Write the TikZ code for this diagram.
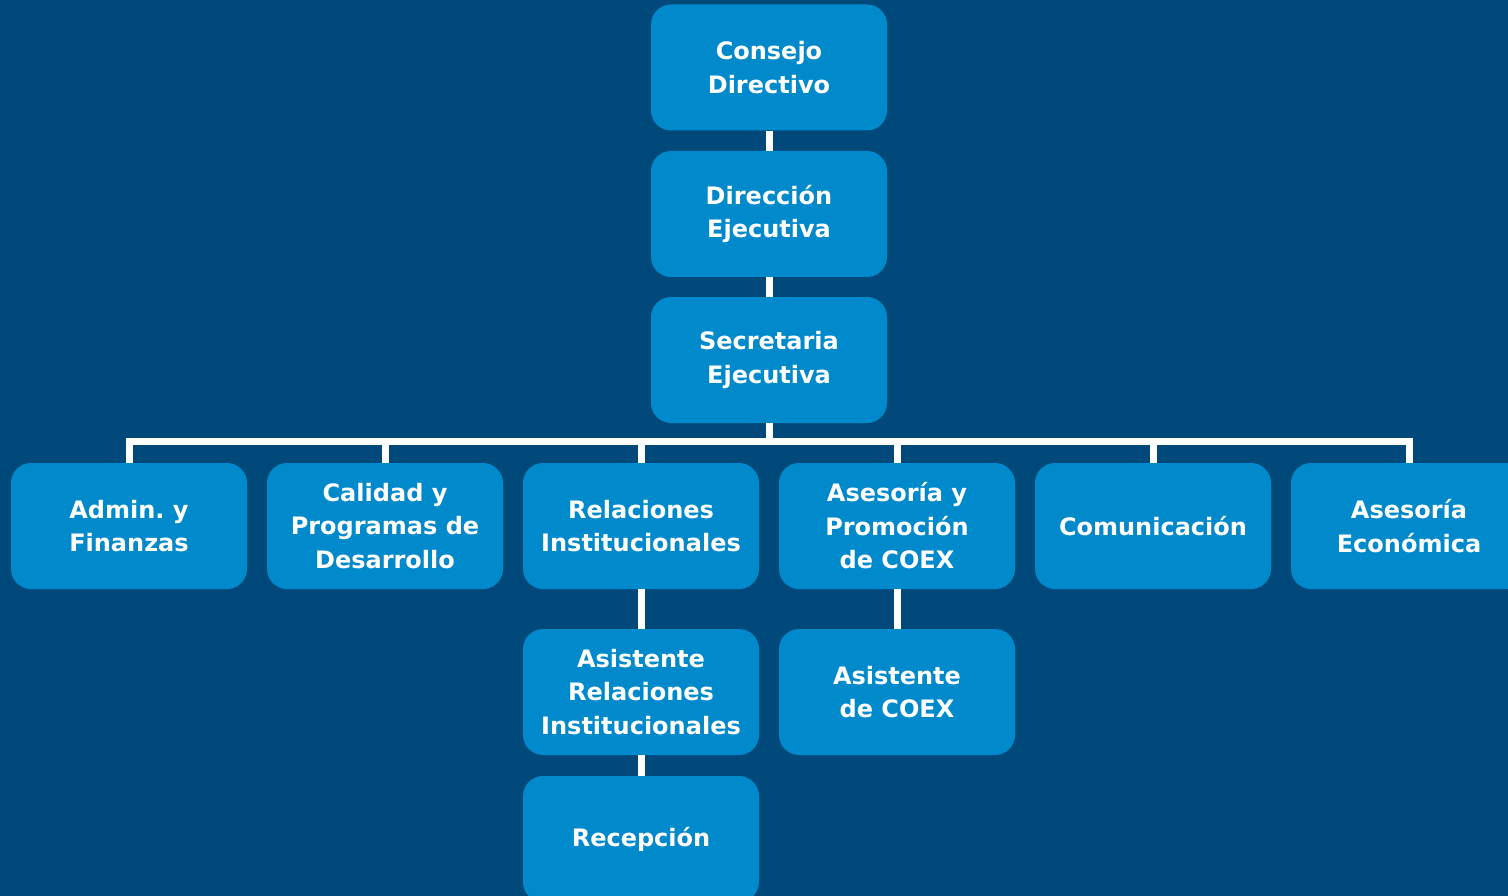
\documentclass[tikz,border=0pt]{standalone}
\usepackage{fontspec}
\setmainfont{DejaVu Sans}
\frenchspacing
\definecolor{bgblue}{HTML}{00497A}
\definecolor{boxblue}{HTML}{0089CB}
\begin{document}
\begin{tikzpicture}[x=1pt,y=-1pt,
  unit/.style={rectangle, rounded corners=20pt, fill=boxblue, draw=none,
    minimum width=236pt, minimum height=126pt, inner sep=0pt,
    text=white, align=center,
    font=\fontsize{24}{33.5}\selectfont\bfseries},
  link/.style={draw=white, line width=7pt}]
  \fill[bgblue] (0,0) rectangle (1508,896);
  \useasboundingbox (0,0) rectangle (1508,896);
  \clip (0,0) rectangle (1508,896);

  % top chain
  \node[unit] (consejo) at (769,67.5) {Consejo\\Directivo};
  \node[unit] (direccion) at (769,214) {Dirección\\Ejecutiva};
  \node[unit] (secretaria) at (769,360) {Secretaria\\Ejecutiva};

  % departments
  \node[unit] (admin) at (129,526) {Admin.\ y\\Finanzas};
  \node[unit] (calidad) at (385,526) {Calidad y\\Programas de\\Desarrollo};
  \node[unit] (relaciones) at (641,526) {Relaciones\\Institucionales};
  \node[unit] (coex) at (897,526) {Asesoría y\\Promoción\\de COEX};
  \node[unit] (comunicacion) at (1153,526) {Comunicación};
  \node[unit] (economica) at (1409,526) {Asesoría\\Económica};

  % assistants
  \node[unit] (asistrel) at (641,692) {Asistente\\Relaciones\\Institucionales};
  \node[unit] (asistcoex) at (897,692) {Asistente\\de COEX};
  \node[unit] (recepcion) at (641,839) {Recepción};

  \coordinate (bus) at (769,441.5);

  \draw[link] (consejo.south) -- (direccion.north);
  \draw[link] (direccion.south) -- (secretaria.north);
  \draw[link] (secretaria.south) -- (secretaria.south |- bus);
  \draw[link] (admin.north) -- (admin.north |- bus) -- (economica.north |- bus) -- (economica.north);
  \draw[link] (calidad.north) -- (calidad.north |- bus);
  \draw[link] (relaciones.north) -- (relaciones.north |- bus);
  \draw[link] (coex.north) -- (coex.north |- bus);
  \draw[link] (comunicacion.north) -- (comunicacion.north |- bus);
  \draw[link] (relaciones.south) -- (asistrel.north);
  \draw[link] (asistrel.south) -- (recepcion.north);
  \draw[link] (coex.south) -- (asistcoex.north);
\end{tikzpicture}
\end{document}
